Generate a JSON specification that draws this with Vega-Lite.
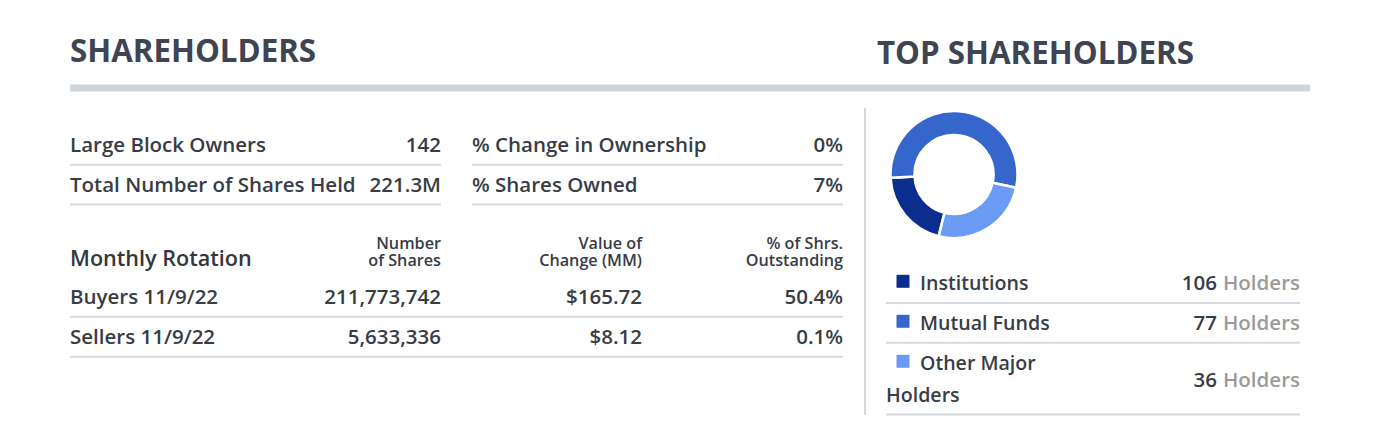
{
  "$schema": "https://vega.github.io/schema/vega-lite/v6.json",
  "width": 1384,
  "height": 434,
  "padding": 0,
  "autosize": {"type": "none"},
  "background": "#ffffff",
  "config": {
    "view": {"stroke": null},
    "axis": {"disable": true},
    "legend": {"disable": true},
    "text": {"font": "Open Sans", "fontWeight": 600, "color": "#383c46", "baseline": "alphabetic"}
  },
  "datasets": {
    "titles": [
      {"panel": "SHAREHOLDERS"},
      {"panel": "TOP SHAREHOLDERS"}
    ],
    "ownership": [
      {"half": "left", "row": "1", "label": "Large Block Owners", "value": "142"},
      {"half": "left", "row": "2", "label": "Total Number of Shares Held", "value": "221.3M"},
      {"half": "right", "row": "1", "label": "% Change in Ownership", "value": "0%"},
      {"half": "right", "row": "2", "label": "% Shares Owned", "value": "7%"}
    ],
    "rotationTitle": [
      {"table": "Monthly Rotation"}
    ],
    "rotationHeaders": [
      {"column": "shares", "header": ["Number", "of Shares"]},
      {"column": "value", "header": ["Value of", "Change (MM)"]},
      {"column": "pct", "header": ["% of Shrs.", "Outstanding"]}
    ],
    "rotation": [
      {"side": "Buyers", "label": "Buyers 11/9/22", "shares": "211,773,742", "value": "$165.72", "pct": "50.4%"},
      {"side": "Sellers", "label": "Sellers 11/9/22", "shares": "5,633,336", "value": "$8.12", "pct": "0.1%"}
    ],
    "holders": [
      {"type": "Institutions", "line1": "Institutions", "line2": "", "holders": 106, "unit": "Holders", "share": 20.3},
      {"type": "Mutual Funds", "line1": "Mutual Funds", "line2": "", "holders": 77, "unit": "Holders", "share": 54.2},
      {"type": "Other Major Holders", "line1": "Other Major", "line2": "Holders", "holders": 36, "unit": "Holders", "share": 25.5}
    ]
  },
  "layer": [
    {
      "data": {"name": "titles"},
      "mark": {"type": "text", "align": "left", "fontSize": 31.3, "fontWeight": "bold", "color": "#3e4452"},
      "encoding": {
        "x": {"field": "panel", "type": "nominal", "scale": {"type": "point", "domain": ["SHAREHOLDERS", "TOP SHAREHOLDERS"], "range": [70, 877], "padding": 0}},
        "y": {"field": "panel", "type": "nominal", "scale": {"type": "point", "domain": ["SHAREHOLDERS", "TOP SHAREHOLDERS"], "range": [62.3, 64.3], "padding": 0}},
        "text": {"field": "panel", "type": "nominal"}
      }
    },
    {
      "data": {"name": "titles"},
      "transform": [{"filter": {"field": "panel", "equal": "SHAREHOLDERS"}}],
      "mark": {"type": "rule", "color": "#cdd5da", "strokeWidth": 7, "strokeCap": "butt"},
      "encoding": {
        "x": {"datum": "SHAREHOLDERS", "type": "nominal", "scale": {"type": "point", "domain": ["SHAREHOLDERS", "TOP SHAREHOLDERS"], "range": [70, 1310], "padding": 0}},
        "x2": {"datum": "TOP SHAREHOLDERS"},
        "y": {"field": "panel", "type": "nominal", "scale": {"type": "point", "domain": ["SHAREHOLDERS"], "range": [88, 88], "padding": 0}}
      }
    },
    {
      "data": {"name": "titles"},
      "transform": [{"filter": {"field": "panel", "equal": "TOP SHAREHOLDERS"}}],
      "mark": {"type": "rule", "color": "#d3d9de", "strokeWidth": 2, "strokeCap": "butt"},
      "encoding": {
        "x": {"field": "panel", "type": "nominal", "scale": {"type": "point", "domain": ["TOP SHAREHOLDERS"], "range": [865, 865], "padding": 0}},
        "y": {"datum": "top", "type": "nominal", "scale": {"type": "point", "domain": ["top", "bottom"], "range": [108, 415], "padding": 0}},
        "y2": {"datum": "bottom"}
      }
    },
    {
      "data": {"name": "ownership"},
      "mark": {"type": "text", "align": "left", "fontSize": 20.5},
      "encoding": {
        "x": {"field": "half", "type": "nominal", "scale": {"type": "point", "domain": ["left", "right"], "range": [70, 472], "padding": 0}},
        "y": {"field": "row", "type": "nominal", "scale": {"type": "point", "domain": ["1", "2"], "range": [152.3, 192], "padding": 0}},
        "text": {"field": "label", "type": "nominal"}
      }
    },
    {
      "data": {"name": "ownership"},
      "mark": {"type": "text", "align": "right", "fontSize": 20.5},
      "encoding": {
        "x": {"field": "half", "type": "nominal", "scale": {"type": "point", "domain": ["left", "right"], "range": [441, 843], "padding": 0}},
        "y": {"field": "row", "type": "nominal", "scale": {"type": "point", "domain": ["1", "2"], "range": [152.3, 192], "padding": 0}},
        "text": {"field": "value", "type": "nominal"}
      }
    },
    {
      "data": {"name": "ownership"},
      "mark": {"type": "rect", "color": "#d6dadf"},
      "encoding": {
        "x": {"field": "half", "type": "nominal", "scale": {"type": "band", "domain": ["left", "right"], "range": [70, 843], "paddingInner": 0.077114, "paddingOuter": 0}},
        "y": {"field": "row", "type": "nominal", "scale": {"type": "band", "domain": ["1", "2"], "range": [163.7, 205.5], "paddingInner": 0.949749, "paddingOuter": 0}}
      }
    },
    {
      "data": {"name": "rotationTitle"},
      "mark": {"type": "text", "align": "left", "fontSize": 21.6, "color": "#33363e"},
      "encoding": {
        "x": {"field": "table", "type": "nominal", "scale": {"type": "point", "domain": ["Monthly Rotation"], "range": [70, 70], "padding": 0}},
        "y": {"field": "table", "type": "nominal", "scale": {"type": "point", "domain": ["Monthly Rotation"], "range": [265.7, 265.7], "padding": 0}},
        "text": {"field": "table", "type": "nominal"}
      }
    },
    {
      "data": {"name": "rotationHeaders"},
      "mark": {"type": "text", "align": "right", "fontSize": 16.2, "lineHeight": 16.7},
      "encoding": {
        "x": {"field": "column", "type": "nominal", "scale": {"type": "point", "domain": ["shares", "value", "pct"], "range": [441, 843], "padding": 0}},
        "y": {"field": "column", "type": "nominal", "scale": {"type": "point", "domain": ["shares", "value", "pct"], "range": [249, 249], "padding": 0}},
        "text": {"field": "header", "type": "nominal"}
      }
    },
    {
      "data": {"name": "rotation"},
      "mark": {"type": "text", "align": "left", "fontSize": 20.5},
      "encoding": {
        "x": {"field": "side", "type": "nominal", "scale": {"type": "point", "domain": ["Buyers", "Sellers"], "range": [70, 70], "padding": 0}},
        "y": {"field": "side", "type": "nominal", "scale": {"type": "point", "domain": ["Buyers", "Sellers"], "range": [304, 344], "padding": 0}},
        "text": {"field": "label", "type": "nominal"}
      }
    },
    {
      "data": {"name": "rotation"},
      "transform": [{"fold": ["shares", "value", "pct"], "as": ["column", "text"]}],
      "mark": {"type": "text", "align": "right", "fontSize": 20.5},
      "encoding": {
        "x": {"field": "column", "type": "nominal", "scale": {"type": "point", "domain": ["shares", "value", "pct"], "range": [441, 843], "padding": 0}},
        "y": {"field": "side", "type": "nominal", "scale": {"type": "point", "domain": ["Buyers", "Sellers"], "range": [304, 344], "padding": 0}},
        "text": {"field": "text", "type": "nominal"}
      }
    },
    {
      "data": {"name": "rotation"},
      "mark": {"type": "rule", "color": "#d6dadf", "strokeWidth": 2, "strokeCap": "butt"},
      "encoding": {
        "x": {"datum": "label", "type": "nominal", "scale": {"type": "point", "domain": ["label", "pct"], "range": [70, 843], "padding": 0}},
        "x2": {"datum": "pct"},
        "y": {"field": "side", "type": "nominal", "scale": {"type": "point", "domain": ["Buyers", "Sellers"], "range": [316.7, 356.7], "padding": 0}}
      }
    },
    {
      "data": {"name": "holders"},
      "mark": {"type": "arc", "innerRadius": 39.5, "outerRadius": 63.5, "stroke": "#ffffff", "strokeWidth": 2.5},
      "encoding": {
        "theta": {"field": "share", "type": "quantitative", "stack": true, "scale": {"range": [4.66, 10.9432]}},
        "order": {"field": "share", "sort": "descending"},
        "color": {"field": "type", "type": "nominal", "scale": {"domain": ["Institutions", "Mutual Funds", "Other Major Holders"], "range": ["#0b2e8e", "#3566cc", "#6a9cf5"]}, "legend": null},
        "x": {"field": "type", "type": "nominal", "scale": {"type": "point", "domain": ["Institutions", "Mutual Funds", "Other Major Holders"], "range": [954, 954], "padding": 0}},
        "y": {"field": "type", "type": "nominal", "scale": {"type": "point", "domain": ["Institutions", "Mutual Funds", "Other Major Holders"], "range": [174.5, 174.5], "padding": 0}}
      }
    },
    {
      "data": {"name": "holders"},
      "mark": {"type": "square", "filled": true, "size": 169, "opacity": 1},
      "encoding": {
        "color": {"field": "type", "type": "nominal", "scale": {"domain": ["Institutions", "Mutual Funds", "Other Major Holders"], "range": ["#0b2e8e", "#3566cc", "#6a9cf5"]}, "legend": null},
        "x": {"field": "type", "type": "nominal", "scale": {"type": "point", "domain": ["Institutions", "Mutual Funds", "Other Major Holders"], "range": [903, 903], "padding": 0}},
        "y": {"field": "type", "type": "nominal", "scale": {"type": "point", "domain": ["Institutions", "Mutual Funds", "Other Major Holders"], "range": [281.3, 361.3], "padding": 0}}
      }
    },
    {
      "data": {"name": "holders"},
      "mark": {"type": "text", "align": "left", "fontSize": 19.6},
      "encoding": {
        "x": {"field": "type", "type": "nominal", "scale": {"type": "point", "domain": ["Institutions", "Mutual Funds", "Other Major Holders"], "range": [920, 920], "padding": 0}},
        "y": {"field": "type", "type": "nominal", "scale": {"type": "point", "domain": ["Institutions", "Mutual Funds", "Other Major Holders"], "range": [290, 370], "padding": 0}},
        "text": {"field": "line1", "type": "nominal"}
      }
    },
    {
      "data": {"name": "holders"},
      "transform": [{"filter": "datum.line2 !== ''"}],
      "mark": {"type": "text", "align": "left", "fontSize": 19.6},
      "encoding": {
        "x": {"field": "type", "type": "nominal", "scale": {"type": "point", "domain": ["Other Major Holders"], "range": [886, 886], "padding": 0}},
        "y": {"field": "type", "type": "nominal", "scale": {"type": "point", "domain": ["Other Major Holders"], "range": [402, 402], "padding": 0}},
        "text": {"field": "line2", "type": "nominal"}
      }
    },
    {
      "data": {"name": "holders"},
      "transform": [
        {"filter": {"field": "type", "oneOf": ["Institutions", "Mutual Funds"]}},
        {"fold": ["holders", "unit"], "as": ["part", "text"]}
      ],
      "mark": {"type": "text", "align": "right", "fontSize": 20.5},
      "encoding": {
        "x": {"field": "part", "type": "nominal", "scale": {"type": "point", "domain": ["holders", "unit"], "range": [1217, 1300], "padding": 0}},
        "y": {"field": "type", "type": "nominal", "scale": {"type": "point", "domain": ["Institutions", "Mutual Funds"], "range": [290, 330], "padding": 0}},
        "color": {"field": "part", "type": "nominal", "scale": {"domain": ["holders", "unit"], "range": ["#383c46", "#9b9b9b"]}, "legend": null},
        "text": {"field": "text", "type": "nominal"}
      }
    },
    {
      "data": {"name": "holders"},
      "transform": [
        {"filter": {"field": "type", "equal": "Other Major Holders"}},
        {"fold": ["holders", "unit"], "as": ["part", "text"]}
      ],
      "mark": {"type": "text", "align": "right", "fontSize": 20.5},
      "encoding": {
        "x": {"field": "part", "type": "nominal", "scale": {"type": "point", "domain": ["holders", "unit"], "range": [1217, 1300], "padding": 0}},
        "y": {"field": "type", "type": "nominal", "scale": {"type": "point", "domain": ["Other Major Holders"], "range": [386.7, 386.7], "padding": 0}},
        "color": {"field": "part", "type": "nominal", "scale": {"domain": ["holders", "unit"], "range": ["#383c46", "#9b9b9b"]}, "legend": null},
        "text": {"field": "text", "type": "nominal"}
      }
    },
    {
      "data": {"name": "holders"},
      "transform": [{"filter": {"field": "type", "oneOf": ["Institutions", "Mutual Funds"]}}],
      "mark": {"type": "rule", "color": "#d6dadf", "strokeWidth": 2, "strokeCap": "butt"},
      "encoding": {
        "x": {"datum": "line1", "type": "nominal", "scale": {"type": "point", "domain": ["line1", "unit"], "range": [886, 1300], "padding": 0}},
        "x2": {"datum": "unit"},
        "y": {"field": "type", "type": "nominal", "scale": {"type": "point", "domain": ["Institutions", "Mutual Funds"], "range": [303, 342.7], "padding": 0}}
      }
    },
    {
      "data": {"name": "holders"},
      "transform": [{"filter": {"field": "type", "equal": "Other Major Holders"}}],
      "mark": {"type": "rule", "color": "#d6dadf", "strokeWidth": 2, "strokeCap": "butt"},
      "encoding": {
        "x": {"datum": "line1", "type": "nominal", "scale": {"type": "point", "domain": ["line1", "unit"], "range": [886, 1300], "padding": 0}},
        "x2": {"datum": "unit"},
        "y": {"field": "type", "type": "nominal", "scale": {"type": "point", "domain": ["Other Major Holders"], "range": [414.5, 414.5], "padding": 0}}
      }
    }
  ],
  "resolve": {"scale": {"x": "independent", "y": "independent", "color": "independent", "theta": "independent"}}
}
